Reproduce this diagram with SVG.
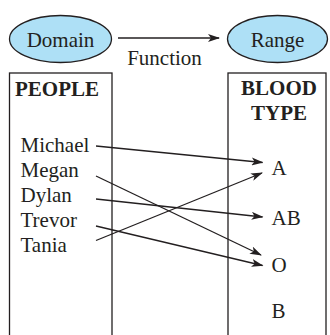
<svg xmlns="http://www.w3.org/2000/svg" width="330" height="335" viewBox="0 0 330 335">
  <style>
    .t { font-family: "Liberation Serif", "Times New Roman", serif; font-size: 21px; fill: #231f20; }
    .b { font-weight: bold; }
    .bubble { fill: #aee0f6; stroke: #231f20; stroke-width: 1.3; }
    .box { fill: none; stroke: #231f20; stroke-width: 1.3; }
    .edge { fill: none; stroke: #231f20; stroke-width: 1.3; marker-end: url(#arrow); }
  </style>
  <defs>
    <marker id="arrow" viewBox="0 0 12 8" refX="11" refY="4" markerWidth="12" markerHeight="8" markerUnits="userSpaceOnUse" orient="auto">
      <path d="M0,0 L12,4 L0,8 L3,4 Z" fill="#231f20"/>
    </marker>
  </defs>
  <rect width="330" height="335" fill="#ffffff"/>

  <g id="domain">
    <ellipse class="bubble" cx="60.5" cy="39" rx="51" ry="23.5"/>
    <text class="t" x="60.5" y="46.5" text-anchor="middle">Domain</text>
  </g>
  <g id="range">
    <ellipse class="bubble" cx="277.5" cy="39" rx="50" ry="23.5"/>
    <text class="t" x="277.5" y="46.5" text-anchor="middle">Range</text>
  </g>

  <g id="people">
    <rect class="box" x="9.5" y="73" width="102.5" height="270"/>
    <text class="t b" x="57" y="96" text-anchor="middle">PEOPLE</text>
    <text class="t" x="20.5" y="152">Michael</text>
    <text class="t" x="20.5" y="177">Megan</text>
    <text class="t" x="20.5" y="202">Dylan</text>
    <text class="t" x="20.5" y="227">Trevor</text>
    <text class="t" x="20.5" y="252">Tania</text>
  </g>

  <g id="blood-type">
    <rect class="box" x="228" y="73" width="98" height="270"/>
    <text class="t b" x="279" y="95" text-anchor="middle">BLOOD</text>
    <text class="t b" x="279" y="120" text-anchor="middle">TYPE</text>
    <text class="t" x="271.5" y="175">A</text>
    <text class="t" x="271.5" y="225">AB</text>
    <text class="t" x="271.5" y="272">O</text>
    <text class="t" x="271.5" y="318">B</text>
  </g>

  <g id="connectors">
    <line class="edge" x1="118" y1="38" x2="219" y2="38"/>
    <line class="edge" x1="96" y1="146" x2="262.5" y2="162.5"/>
    <line class="edge" x1="96" y1="176" x2="261" y2="255"/>
    <line class="edge" x1="96" y1="199" x2="262.5" y2="217"/>
    <line class="edge" x1="96" y1="226" x2="262.5" y2="265.5"/>
    <line class="edge" x1="96" y1="240.5" x2="262" y2="173"/>
  </g>
  <text class="t" x="164.5" y="65" text-anchor="middle">Function</text>
</svg>
